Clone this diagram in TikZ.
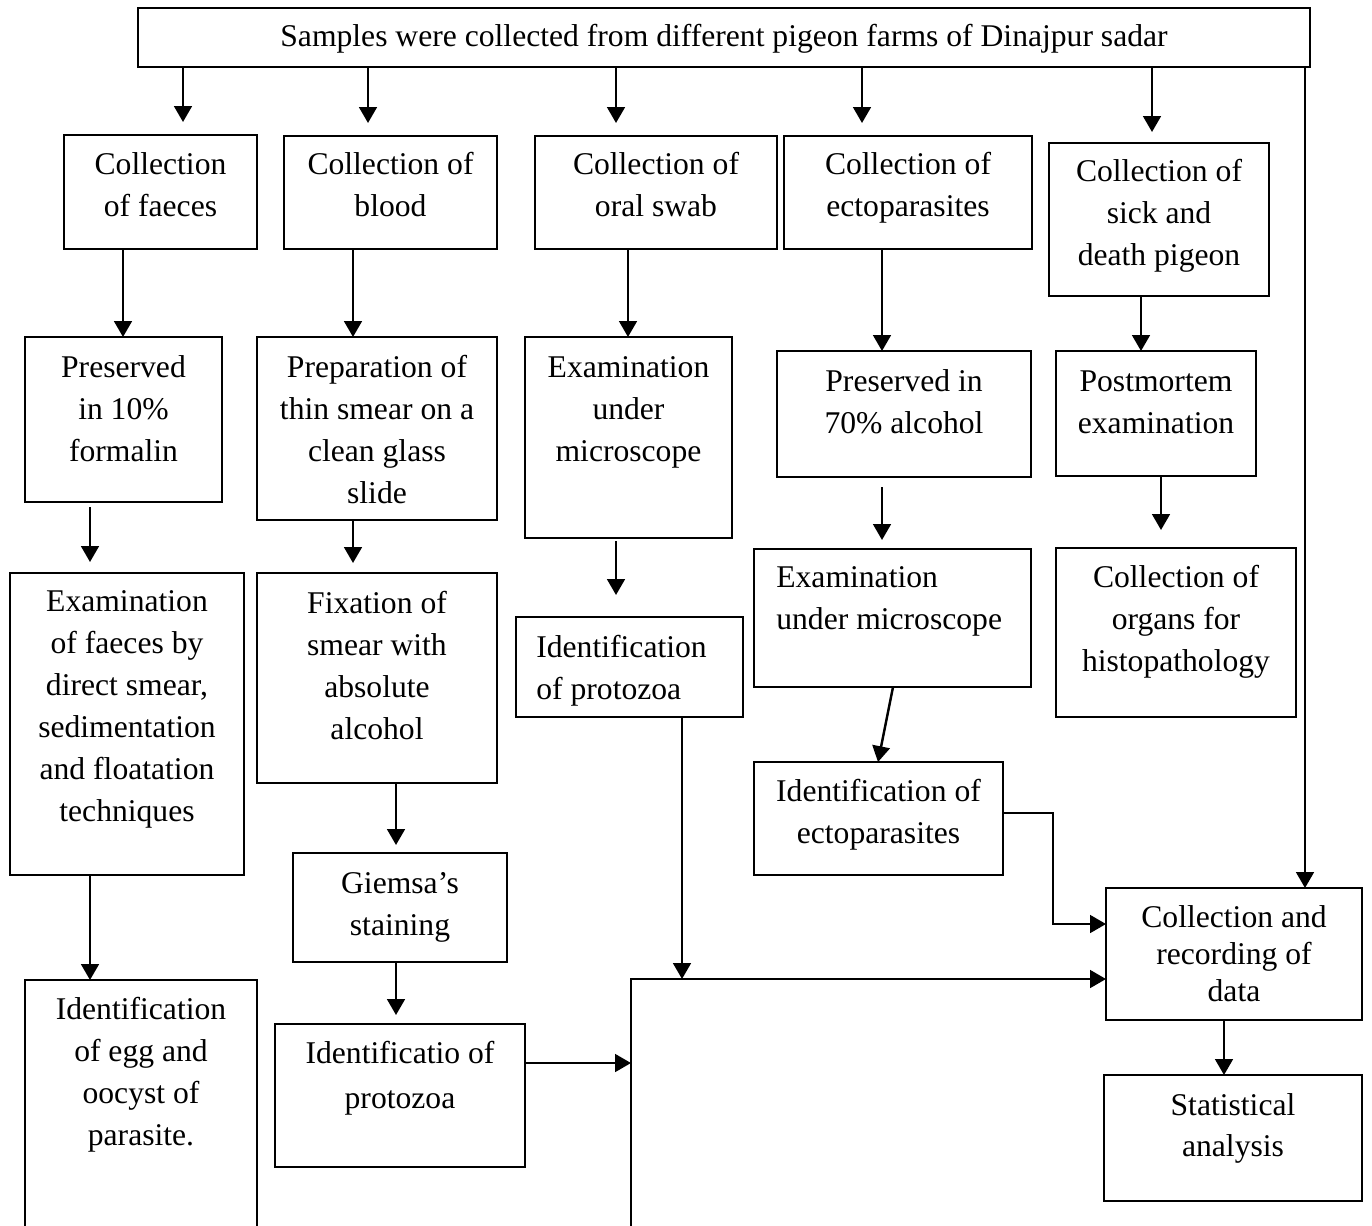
\documentclass[tikz,border=0pt]{standalone}
\usepackage{fontspec}
\setmainfont{Liberation Serif}
\usetikzlibrary{arrows.meta}
\newcommand\T{\rule{0pt}{14pt}}
\newcommand\bx[5]{\node[box, minimum width={(#4-#2)*0.02cm}, minimum height={(#5-#3)*0.02cm}] (#1) at ({(#2+#4)/2},{(#3+#5)/2}) {};}
\begin{document}
\begin{tikzpicture}[x=0.02cm,y=-0.02cm,
  box/.style={draw, line width=1.1pt, inner sep=0pt, outer sep=0pt},
  txt/.style={font=\fontsize{18pt}{23.9pt}\selectfont, align=center, inner sep=0pt, anchor=north},
  ltxt/.style={txt, align=left, anchor=north west},
  arr/.style={line width=1.4pt, -{Triangle[length=9pt,width=10pt]}},
  ln/.style={line width=1.4pt}]
\useasboundingbox (0,0) rectangle (1372,1225);
\clip (0,0) rectangle (1372,1225);
% boxes
\bx{top}{138}{8}{1310}{67}
\bx{fae}{64}{135}{257}{249}
\bx{blood}{284}{136}{497}{249}
\bx{oral}{535}{136}{777}{249}
\bx{ecto}{784}{136}{1032}{249}
\bx{sick}{1049}{143}{1269}{296}
\bx{pres10}{25}{337}{222}{502}
\bx{prep}{257}{337}{497}{520}
\bx{exam3}{525}{337}{732}{538}
\bx{pres70}{777}{351}{1031}{477}
\bx{pm}{1056}{351}{1256}{476}
\bx{examf}{10}{573}{244}{875}
\bx{fix}{257}{573}{497}{783}
\bx{idprot3}{516}{617}{743}{717}
\bx{exam4}{754}{549}{1031}{687}
\bx{organs}{1056}{548}{1296}{717}
\bx{idecto}{754}{762}{1003}{875}
\bx{giemsa}{293}{853}{507}{962}
\bx{idprot2}{275}{1024}{525}{1167}
\bx{idegg}{25}{980}{257}{1250}
\bx{data}{1106}{888}{1362}{1020}
\bx{stat}{1104}{1075}{1362}{1201}
% texts
\node[txt] (topt) at (724,22) {\T Samples were collected from different pigeon farms of Dinajpur sadar};
\node[txt] (faet) at (160.5,150) {\T Collection\\of faeces};
\node[txt] (bloodt) at (390.5,150) {\T Collection of\\blood};
\node[txt] (oralt) at (656,150) {\T Collection of\\oral swab};
\node[txt] (ectot) at (908,150) {\T Collection of\\ectoparasites};
\node[txt] (sickt) at (1159,157) {\T Collection of\\sick and\\death pigeon};
\node[txt] (pres10t) at (123.5,353) {\T Preserved\\in 10\%\\formalin};
\node[txt] (prept) at (377,353) {\T Preparation of\\thin smear on a\\clean glass\\slide};
\node[txt] (exam3t) at (628.5,353) {\T Examination\\under\\microscope};
\node[txt] (pres70t) at (904,367) {\T Preserved in\\70\% alcohol};
\node[txt] (pmt) at (1156,367) {\T Postmortem\\examination};
\node[txt] (examft) at (127,587) {\T Examination\\of faeces by\\direct smear,\\sedimentation\\and floatation\\techniques};
\node[txt] (fixt) at (377,589) {\T Fixation of\\smear with\\absolute\\alcohol};
\node[ltxt] (idprot3t) at (536,633) {\T Identification\\of protozoa};
\node[ltxt] (exam4t) at (776,563) {\T Examination\\under microscope};
\node[txt] (organst) at (1176,563) {\T Collection of\\organs for\\histopathology};
\node[txt] (idectot) at (878.5,777) {\T Identification of\\ectoparasites};
\node[txt] (giemsat) at (400,869) {\T Giemsa’s\\staining};
\node[txt] (ideggt) at (141,995) {\T Identification\\of egg and\\oocyst of\\parasite.};
\node[txt, font=\fontsize{18pt}{25.6pt}\selectfont] (idprot2t) at (400,1039) {\T Identificatio of\\protozoa};
\node[txt, font=\fontsize{18pt}{21pt}\selectfont] (datat) at (1234,903) {\T Collection and\\recording of\\data};
\node[txt, font=\fontsize{18pt}{22.8pt}\selectfont] (statt) at (1233,1091) {\T Statistical\\analysis};
% helper coordinates
\coordinate (xa) at (183,0);
\coordinate (xb) at (368,0);
\coordinate (xc) at (616,0);
\coordinate (xd) at (862,0);
\coordinate (xe) at (1152,0);
\coordinate (xr) at (1305,0);
\coordinate (xf) at (123,0);
\coordinate (xg) at (353,0);
\coordinate (xh) at (628,0);
\coordinate (xi) at (882,0);
\coordinate (xj) at (1141,0);
\coordinate (xk) at (90,0);
\coordinate (xm) at (1161,0);
\coordinate (xn) at (893,0);
\coordinate (xo) at (878,0);
\coordinate (xp) at (396,0);
\coordinate (xq) at (682,0);
\coordinate (xs) at (1224,0);
\coordinate (jn) at (631,979);
\coordinate (jb) at (631,1250);
\coordinate (e1) at (1053,813);
\coordinate (e2) at (1053,924);
\coordinate (ep) at (0,1063);
% connectors
\draw[arr, shorten >=0.26cm] (top.south -| xa) -- (fae.north -| xa);
\draw[arr, shorten >=0.26cm] (top.south -| xb) -- (blood.north -| xb);
\draw[arr, shorten >=0.26cm] (top.south -| xc) -- (oral.north -| xc);
\draw[arr, shorten >=0.26cm] (top.south -| xd) -- (ecto.north -| xd);
\draw[arr, shorten >=0.22cm] (top.south -| xe) -- (sick.north -| xe);
\draw[arr] (top.south -| xr) -- (data.north -| xr);
\draw[arr] (fae.south -| xf) -- (pres10.north -| xf);
\draw[arr] (blood.south -| xg) -- (prep.north -| xg);
\draw[arr] (oral.south -| xh) -- (exam3.north -| xh);
\draw[arr] (ecto.south -| xi) -- (pres70.north -| xi);
\draw[arr] (sick.south -| xj) -- (pm.north -| xj);
\draw[arr, shorten <=0.1cm, shorten >=0.22cm] (pres10.south -| xk) -- (examf.north -| xk);
\draw[arr, shorten >=0.2cm] (prep.south -| xg) -- (fix.north -| xg);
\draw[arr, shorten <=0.06cm, shorten >=0.44cm] (exam3.south -| xc) -- (idprot3.north -| xc);
\draw[arr, shorten <=0.2cm, shorten >=0.18cm] (pres70.south -| xi) -- (exam4.north -| xi);
\draw[arr, shorten >=0.36cm] (pm.south -| xm) -- (organs.north -| xm);
\draw[arr] (exam4.south -| xn) -- (idecto.north -| xo);
\draw[arr] (idecto.east |- e1) -- (e1) -- (e2) -- (data.west |- e2);
\draw[arr] (examf.south -| xk) -- (idegg.north -| xk);
\draw[arr, shorten >=0.16cm] (fix.south -| xp) -- (giemsa.north -| xp);
\draw[arr, shorten >=0.18cm] (giemsa.south -| xp) -- (idprot2.north -| xp);
\draw[arr] (idprot2.east |- ep) -- (jn |- ep);
\draw[arr] (idprot3.south -| xq) -- (xq |- jn);
\draw[arr] (jb) -- (jn) -- (data.west |- jn);
\draw[arr] (data.south -| xs) -- (stat.north -| xs);
\end{tikzpicture}
\end{document}
